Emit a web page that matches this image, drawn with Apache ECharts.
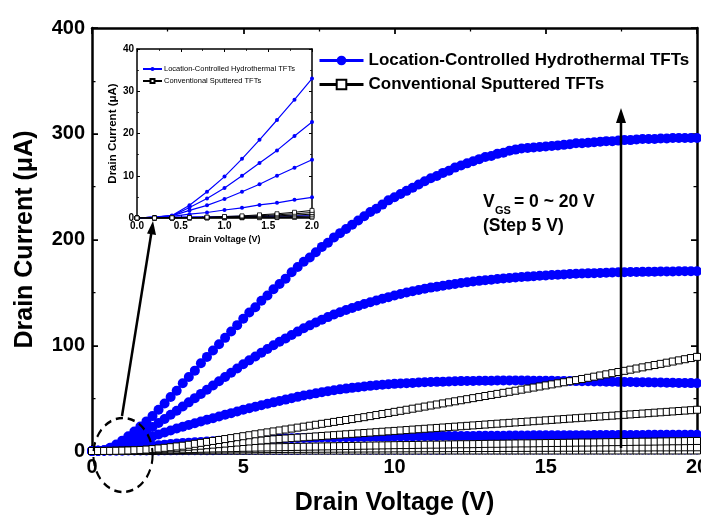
<!DOCTYPE html>
<html>
<head>
<meta charset="utf-8">
<script src="https://cdn.jsdelivr.net/npm/echarts@6/dist/echarts.min.js"></script>
<style>
  html, body { margin: 0; padding: 0; background: #fff; overflow: hidden; }
  #chart { width: 701px; height: 517px; }
</style>
</head>
<body>
<div id="chart"></div>
<script>
// drain voltage (V), 0.2 V steps
const voltage = [0,0.2,0.4,0.6,0.8,1,1.2,1.4,1.6,1.8,2,
  2.2,2.4,2.6,2.8,3,3.2,3.4,3.6,3.8,4,
  4.2,4.4,4.6,4.8,5,5.2,5.4,5.6,5.8,6,
  6.2,6.4,6.6,6.8,7,7.2,7.4,7.6,7.8,8,
  8.2,8.4,8.6,8.8,9,9.2,9.4,9.6,9.8,10,
  10.2,10.4,10.6,10.8,11,11.2,11.4,11.6,11.8,12,
  12.2,12.4,12.6,12.8,13,13.2,13.4,13.6,13.8,14,
  14.2,14.4,14.6,14.8,15,15.2,15.4,15.6,15.8,16,
  16.2,16.4,16.6,16.8,17,17.2,17.4,17.6,17.8,18,
  18.2,18.4,18.6,18.8,19,19.2,19.4,19.6,19.8,20];

// location-controlled hydrothermal TFTs, drain current (uA), VGS = 0..20 V
const hydro0 = [0,0.1,0.2,0.25,0.3,0.35,0.4,0.4,0.45,0.5,0.5,
  0.55,0.6,0.6,0.65,0.7,0.7,0.75,0.75,0.8,0.8,
  0.85,0.85,0.9,0.9,0.9,0.95,0.95,1,1,1,
  1,1.05,1.05,1.05,1.1,1.1,1.1,1.1,1.15,1.15,
  1.15,1.15,1.2,1.2,1.2,1.2,1.2,1.25,1.25,1.25,
  1.25,1.25,1.3,1.3,1.3,1.3,1.3,1.3,1.35,1.35,
  1.35,1.35,1.35,1.35,1.4,1.4,1.4,1.4,1.4,1.4,
  1.4,1.4,1.45,1.45,1.45,1.45,1.45,1.45,1.45,1.45,
  1.45,1.5,1.5,1.5,1.5,1.5,1.5,1.5,1.5,1.5,
  1.5,1.5,1.5,1.5,1.5,1.5,1.5,1.5,1.5,1.5];
const hydro5 = [0,0.2,0.4,0.9,1.3,1.9,2.4,3.1,3.6,4.3,4.9,
  5.5,6,6.6,7.1,7.5,7.9,8.3,8.6,9,9.3,
  9.6,9.8,10.1,10.4,10.6,10.8,11,11.2,11.4,11.6,
  11.7,11.9,12,12.2,12.3,12.4,12.5,12.7,12.8,12.9,
  13,13.1,13.1,13.2,13.3,13.4,13.5,13.5,13.6,13.7,
  13.7,13.8,13.8,13.9,13.9,14,14,14.1,14.1,14.2,
  14.2,14.3,14.3,14.4,14.4,14.4,14.5,14.5,14.6,14.6,
  14.7,14.7,14.8,14.8,14.8,14.9,14.9,14.9,15,15,
  15,15,15.1,15.1,15.1,15.1,15.2,15.2,15.2,15.2,
  15.2,15.3,15.3,15.3,15.3,15.3,15.4,15.4,15.4,15.4];
const hydro10 = [0,0.2,0.5,1.8,3,4.5,6.2,8,10,11.9,13.8,
  15.7,17.6,19.4,21.2,23,24.7,26.3,27.9,29.5,31,
  32.6,34.2,35.8,37.4,39,40.4,41.8,43.2,44.6,46,
  47.3,48.6,49.9,51.2,52.5,53.5,54.5,55.6,56.6,57.5,
  58.3,59,59.7,60.4,61,61.6,62.1,62.6,63.1,63.5,
  63.8,64.1,64.4,64.7,65,65.2,65.4,65.6,65.8,66,
  66.1,66.2,66.3,66.4,66.5,66.5,66.6,66.6,66.6,66.6,
  66.6,66.6,66.5,66.5,66.5,66.4,66.3,66.3,66.2,66.1,
  66,65.9,65.8,65.7,65.6,65.5,65.4,65.3,65.2,65.1,
  65,64.9,64.8,64.7,64.6,64.5,64.4,64.3,64.2,64.1];
const hydro15 = [0,0.2,0.5,2.5,4.6,7.1,10,13,16,19.4,22.7,
  26.5,30.3,34.2,38.1,42,46,50,54,58,62,
  66,70,74,78,82,85.7,89.4,93,96.5,100,
  103.3,106.5,109.7,112.9,116,118.8,121.5,124.1,126.6,129,
  131.2,133.3,135.2,137.1,139,140.7,142.3,143.9,145.5,147,
  148.4,149.8,151.1,152.3,153.5,154.5,155.4,156.3,157.2,158,
  158.8,159.5,160.2,160.9,161.5,162,162.6,163.1,163.6,164.1,
  164.5,164.9,165.3,165.7,166,166.4,166.7,167,167.3,167.6,
  167.8,168,168.2,168.4,168.6,168.8,169,169.1,169.2,169.3,
  169.4,169.5,169.6,169.7,169.8,169.8,169.9,169.9,170,170];
const hydro20 = [0,0.2,0.6,3,6.2,9.8,14,18.5,23.2,28,33,
  39,45,51,57,64,70,76,83,89,95,
  101,107,113,119,125,131,136,142,147,153,
  158,163,169,174,179,183,188,193,197,202,
  206,210,214,218,222,226,229,233,237,240,
  243,246,249,252,255,258,260,263,265,268,
  270,272,274,276,278,279,281,282,284,285,
  286,286.5,287,287.5,288,288.5,289,289.5,290,291,
  291,291.5,292,292.5,293,293,293.5,294,294,294.5,
  295,295,295,295.5,295.5,296,296,296,296,296];

// conventional sputtered TFTs, drain current (uA), VGS = 0..20 V
const sput0 = [0,0,0,0.01,0.02,0.03,0.05,0.07,0.1,0.13,0.17,
  0.2,0.22,0.24,0.26,0.28,0.29,0.3,0.31,0.32,0.33,
  0.33,0.34,0.34,0.35,0.35,0.36,0.36,0.37,0.37,0.38,
  0.38,0.38,0.39,0.39,0.4,0.4,0.4,0.4,0.41,0.41,
  0.41,0.42,0.42,0.42,0.42,0.43,0.43,0.43,0.43,0.44,
  0.44,0.44,0.44,0.45,0.45,0.45,0.45,0.45,0.46,0.46,
  0.46,0.46,0.46,0.47,0.47,0.47,0.47,0.47,0.47,0.47,
  0.47,0.48,0.48,0.48,0.48,0.48,0.48,0.48,0.48,0.48,
  0.49,0.49,0.49,0.49,0.49,0.49,0.49,0.49,0.49,0.49,
  0.5,0.5,0.5,0.5,0.5,0.5,0.5,0.5,0.5,0.5];
const sput5 = [0,0,0.01,0.02,0.05,0.08,0.12,0.18,0.25,0.35,0.45,
  0.55,0.65,0.75,0.85,0.95,1.05,1.1,1.2,1.25,1.3,
  1.4,1.45,1.5,1.55,1.6,1.65,1.7,1.75,1.8,1.85,
  1.9,1.95,2,2,2.05,2.1,2.1,2.15,2.2,2.2,
  2.25,2.3,2.3,2.35,2.35,2.4,2.4,2.45,2.45,2.5,
  2.5,2.55,2.55,2.6,2.6,2.65,2.65,2.7,2.7,2.7,
  2.75,2.75,2.8,2.8,2.8,2.85,2.85,2.9,2.9,2.9,
  2.95,2.95,3,3,3,3.05,3.05,3.1,3.1,3.1,
  3.15,3.15,3.2,3.2,3.2,3.25,3.25,3.3,3.3,3.3,
  3.35,3.35,3.4,3.4,3.4,3.45,3.45,3.5,3.5,3.5];
const sput10 = [0,0,0.02,0.05,0.1,0.15,0.25,0.35,0.5,0.7,0.9,
  1.05,1.2,1.35,1.5,1.65,1.8,1.95,2.1,2.25,2.4,
  2.5,2.6,2.7,2.85,3,3.1,3.2,3.3,3.4,3.5,
  3.6,3.7,3.8,3.9,4,4.1,4.2,4.3,4.4,4.5,
  4.6,4.7,4.8,4.9,5,5.1,5.2,5.3,5.4,5.5,
  5.6,5.6,5.7,5.8,5.9,6,6,6.1,6.2,6.3,
  6.4,6.4,6.5,6.6,6.7,6.8,6.8,6.9,7,7.1,
  7.2,7.2,7.3,7.4,7.5,7.6,7.6,7.7,7.8,7.9,
  8,8,8.1,8.2,8.3,8.4,8.4,8.5,8.6,8.7,
  8.8,8.8,8.9,9,9.1,9.2,9.2,9.3,9.4,9.5];
const sput15 = [0,0,0.03,0.07,0.15,0.25,0.35,0.55,0.75,1,1.3,
  1.7,2.1,2.5,3,3.5,4,4.5,5,5.5,6,
  6.5,7,7.5,8,8.5,9,9.5,10,10.5,11,
  11.4,11.8,12.2,12.6,13,13.4,13.8,14.2,14.6,15,
  15.4,15.8,16.2,16.6,17,17.4,17.8,18.2,18.6,19,
  19.4,19.8,20.2,20.6,21,21.4,21.8,22.2,22.6,23,
  23.4,23.8,24.2,24.6,25,25.4,25.8,26.2,26.6,27,
  27.4,27.8,28.2,28.6,29,29.4,29.8,30.2,30.6,31,
  31.4,31.8,32.2,32.6,33,33.4,33.8,34.2,34.6,35,
  35.4,35.8,36.2,36.6,37,37.4,37.8,38.2,38.6,39];
const sput20 = [0,0,0.05,0.1,0.2,0.35,0.5,0.75,1,1.35,1.8,
  2.4,3,3.6,4.3,5,5.9,6.8,7.7,8.6,9.5,
  10.4,11.3,12.2,13.1,14,14.9,15.8,16.7,17.6,18.5,
  19.4,20.3,21.2,22.1,23,23.9,24.8,25.7,26.6,27.5,
  28.4,29.3,30.2,31.1,32,33,34,35,36,37,
  38,39,40,41,42,43,44,45,46,47,
  48,49,50,51,52,53,54,55,56,57,
  58,59,60,61,62,63,64,65,66,67,
  68.1,69.2,70.3,71.4,72.5,73.6,74.7,75.8,76.9,78,
  79.1,80.2,81.3,82.4,83.5,84.6,85.7,86.8,87.9,89];

const insetPoints = 11; // inset shows 0 .. 2.0 V

const hydroName = 'Location-Controlled Hydrothermal TFTs';
const sputName = 'Conventional Sputtered TFTs';
const hydroCurves = [hydro0, hydro5, hydro10, hydro15, hydro20];
const sputCurves = [sput0, sput5, sput10, sput15, sput20];

const BLUE = '#0000ff';
const FONT = '"Liberation Sans", Arial, sans-serif';

function pairs (ys, n) {
  return ys.slice(0, n).map((y, i) => [voltage[i], y]);
}

function frameAxis (grid, pos, min, max, interval, lw, len, minorLen, show) {
  return {
    type: 'value', gridIndex: grid, position: pos, min: min, max: max, interval: interval,
    axisLine: { show: true, onZero: false, lineStyle: { color: '#000', width: lw } },
    axisTick: { show: true, inside: true, length: len, lineStyle: { color: '#000', width: lw * 0.7 } },
    minorTick: { show: true, splitNumber: 2, length: minorLen, lineStyle: { color: '#000', width: lw * 0.5 } },
    axisLabel: { show: show },
    splitLine: { show: false }
  };
}

const xAxes = [
  Object.assign(frameAxis(0, 'bottom', 0, 20, 5, 2.5, 6, 3.5, true), {
    axisLabel: { show: true, margin: 6, fontFamily: FONT, fontWeight: 'bold', fontSize: 20, color: '#000' },
    name: 'Drain Voltage (V)', nameLocation: 'middle', nameGap: 40,
    nameTextStyle: { fontFamily: FONT, fontWeight: 'bold', fontSize: 25, color: '#000' }
  }),
  frameAxis(0, 'top', 0, 20, 5, 2.5, 6, 3.5, false),
  Object.assign(frameAxis(1, 'bottom', 0, 2, 0.5, 1.5, 3, 2, true), {
    axisLabel: { show: true, margin: 3, fontFamily: FONT, fontWeight: 'bold', fontSize: 10, color: '#000',
      formatter: v => v.toFixed(1) },
    name: 'Drain Voltage (V)', nameLocation: 'middle', nameGap: 17,
    nameTextStyle: { fontFamily: FONT, fontWeight: 'bold', fontSize: 9, color: '#000' }
  }),
  frameAxis(1, 'top', 0, 2, 0.5, 1.5, 3, 2, false)
];

const yAxes = [
  Object.assign(frameAxis(0, 'left', 0, 400, 100, 2.5, 6, 3.5, true), {
    axisLabel: { show: true, margin: 7, fontFamily: FONT, fontWeight: 'bold', fontSize: 20, color: '#000' },
    name: 'Drain Current (\u03bcA)', nameLocation: 'middle', nameGap: 54,
    nameTextStyle: { fontFamily: FONT, fontWeight: 'bold', fontSize: 25, color: '#000' }
  }),
  frameAxis(0, 'right', 0, 400, 100, 2.5, 6, 3.5, false),
  Object.assign(frameAxis(1, 'left', 0, 40, 10, 1.5, 3, 2, true), {
    axisLabel: { show: true, margin: 3, fontFamily: FONT, fontWeight: 'bold', fontSize: 10, color: '#000' },
    name: 'Drain Current (\u03bcA)', nameLocation: 'middle', nameGap: 15,
    nameTextStyle: { fontFamily: FONT, fontWeight: 'bold', fontSize: 11.5, color: '#000' }
  }),
  frameAxis(1, 'right', 0, 40, 10, 1.5, 3, 2, false)
];

const series = [];
hydroCurves.forEach(ys => {
  series.push({
    name: hydroName, type: 'line', xAxisIndex: 0, yAxisIndex: 0,
    data: pairs(ys, voltage.length), symbol: 'circle', symbolSize: 10, showSymbol: true,
    itemStyle: { color: BLUE }, lineStyle: { color: BLUE, width: 2 }, animation: false
  });
});
sputCurves.forEach(ys => {
  series.push({
    name: sputName, type: 'line', xAxisIndex: 0, yAxisIndex: 0,
    data: pairs(ys, voltage.length), symbol: 'rect', symbolSize: 7, showSymbol: true,
    itemStyle: { color: '#fff', borderColor: '#000', borderWidth: 1 },
    lineStyle: { color: '#000', width: 1 }, animation: false
  });
});
hydroCurves.forEach(ys => {
  series.push({
    name: 'insetHydro', type: 'line', xAxisIndex: 2, yAxisIndex: 2,
    data: pairs(ys, insetPoints), symbol: 'circle', symbolSize: 4, z: 6,
    itemStyle: { color: BLUE }, lineStyle: { color: BLUE, width: 1.2 }, animation: false
  });
});
sputCurves.forEach(ys => {
  series.push({
    name: 'insetSput', type: 'line', xAxisIndex: 2, yAxisIndex: 2,
    data: pairs(ys, insetPoints), symbol: 'rect', symbolSize: 4, z: 6,
    itemStyle: { color: '#fff', borderColor: '#000', borderWidth: 0.8 },
    lineStyle: { color: '#000', width: 1 }, animation: false
  });
});

const option = {
  backgroundColor: '#fff',
  animation: false,
  grid: [
    { left: 92, right: 4, top: 28, bottom: 66, outerBoundsMode: 'none' },
    { left: 137, right: 389, top: 49, bottom: 299, outerBoundsMode: 'none',
      show: true, backgroundColor: '#fff', borderWidth: 0 }
  ],
  xAxis: xAxes,
  yAxis: yAxes,
  legend: [
    {
      data: [hydroName, sputName], orient: 'vertical', left: 318, top: 52, padding: 0,
      itemWidth: 44, itemHeight: 12, itemGap: 7, selectedMode: false,
      lineStyle: { width: 3 },
      textStyle: { fontFamily: FONT, fontWeight: 'bold', fontSize: 17, color: '#000' }
    },
    {
      data: ['insetHydro', 'insetSput'], orient: 'vertical', left: 142, top: 65, padding: 0,
      itemWidth: 19, itemHeight: 5, itemGap: 4, selectedMode: false,
      formatter: n => n === 'insetHydro' ? hydroName : sputName,
      textStyle: { fontFamily: FONT, fontSize: 7.5, color: '#000', padding: [0, 0, 0, -3] }
    }
  ],
  graphic: [
    // dashed ellipse around the origin
    { type: 'circle', x: 123, y: 455, scaleX: 0.8, shape: { cx: 0, cy: 0, r: 37 },
      style: { fill: null, stroke: '#000', lineWidth: 2.6, lineDash: [9, 6] }, z: 20 },
    // arrow to inset
    { type: 'line', shape: { x1: 122, y1: 416, x2: 151.5, y2: 232 },
      style: { stroke: '#000', lineWidth: 2.5 }, z: 20 },
    { type: 'polygon', shape: { points: [[153, 221], [156, 235], [147, 233.5]] },
      style: { fill: '#000' }, z: 20 },
    // VGS arrow
    { type: 'line', shape: { x1: 621, y1: 448, x2: 621, y2: 120 },
      style: { stroke: '#000', lineWidth: 2.5 }, z: 20 },
    { type: 'polygon', shape: { points: [[621, 108], [626, 123], [616, 123]] },
      style: { fill: '#000' }, z: 20 },
    { type: 'text', x: 483, y: 193, z: 20,
      style: { text: 'V', font: 'bold 17.5px ' + FONT, fill: '#000' } },
    { type: 'text', x: 495, y: 205, z: 20,
      style: { text: 'GS', font: 'bold 11px ' + FONT, fill: '#000' } },
    { type: 'text', x: 514, y: 193, z: 20,
      style: { text: '= 0 ~ 20 V', font: 'bold 17.5px ' + FONT, fill: '#000' } },
    { type: 'text', x: 483, y: 217, z: 20,
      style: { text: '(Step 5 V)', font: 'bold 17.5px ' + FONT, fill: '#000' } }
  ],
  series: series
};

const chart = echarts.init(document.getElementById('chart'), null, { renderer: 'canvas' });
chart.setOption(option);
</script>
</body>
</html>
